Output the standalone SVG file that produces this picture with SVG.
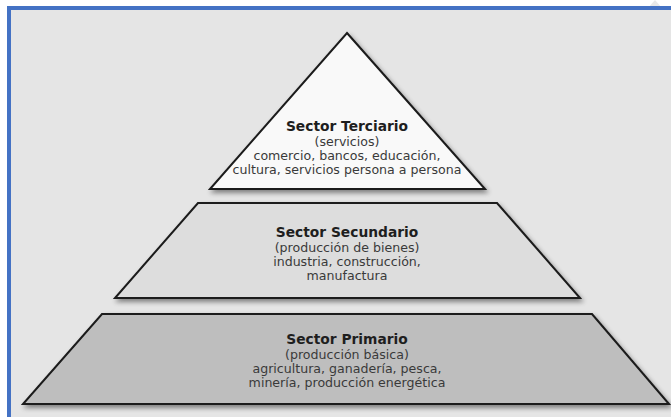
<svg xmlns="http://www.w3.org/2000/svg" width="671" height="417" viewBox="0 0 671 417">
  <defs>
    <filter id="shadow" x="-10%" y="-10%" width="125%" height="130%">
      <feGaussianBlur in="SourceAlpha" stdDeviation="2.5"/>
      <feOffset dx="2" dy="3" result="b"/>
      <feComponentTransfer><feFuncA type="linear" slope="0.45"/></feComponentTransfer>
      <feMerge><feMergeNode/><feMergeNode in="SourceGraphic"/></feMerge>
    </filter>
  </defs>
  <style>
    .lvl { stroke: #1a1a1a; stroke-width: 2; stroke-linejoin: miter; filter: url(#shadow); }
    .title { font-family: "DejaVu Sans", Verdana, sans-serif; font-weight: bold; font-size: 13.8px; fill: #1e1e1e; text-anchor: middle; }
    .body { font-family: "DejaVu Sans", Verdana, sans-serif; font-size: 12.6px; fill: #3a3a3a; text-anchor: middle; }
  </style>
  <rect x="0" y="0" width="671" height="417" fill="#ffffff"/>
  <rect x="9" y="8" width="662" height="409" fill="#e5e5e5"/>
  <path d="M648 8 L655 0 L662 8" fill="#d8d8d8" stroke="none" opacity="0.6"/>
  <g id="border">
    <line x1="7" y1="8" x2="671" y2="8" stroke="#4472c4" stroke-width="4"/>
    <line x1="9" y1="6" x2="9" y2="417" stroke="#4472c4" stroke-width="4"/>
  </g>
  <g id="connectors"></g>
  <g id="terciario">
    <polygon class="lvl" points="347,33 485,189 210,189" fill="#f9f9f9"/>
    <text class="title" x="347" y="131">Sector Terciario</text>
    <text class="body" x="347" y="146">(servicios)</text>
    <text class="body" x="347" y="160">comercio, bancos, educación,</text>
    <text class="body" x="347" y="174">cultura, servicios persona a persona</text>
  </g>
  <g id="secundario">
    <polygon class="lvl" points="198,203 497,203 580,298 115,298" fill="#dddddd"/>
    <text class="title" x="347" y="237">Sector Secundario</text>
    <text class="body" x="347" y="252">(producción de bienes)</text>
    <text class="body" x="347" y="266">industria, construcción,</text>
    <text class="body" x="347" y="280">manufactura</text>
  </g>
  <g id="primario">
    <polygon class="lvl" points="102,314 592,314 669,404 23,404" fill="#bebebe"/>
    <text class="title" x="347" y="344">Sector Primario</text>
    <text class="body" x="347" y="359">(producción básica)</text>
    <text class="body" x="347" y="373">agricultura, ganadería, pesca,</text>
    <text class="body" x="347" y="387">minería, producción energética</text>
  </g>
</svg>
